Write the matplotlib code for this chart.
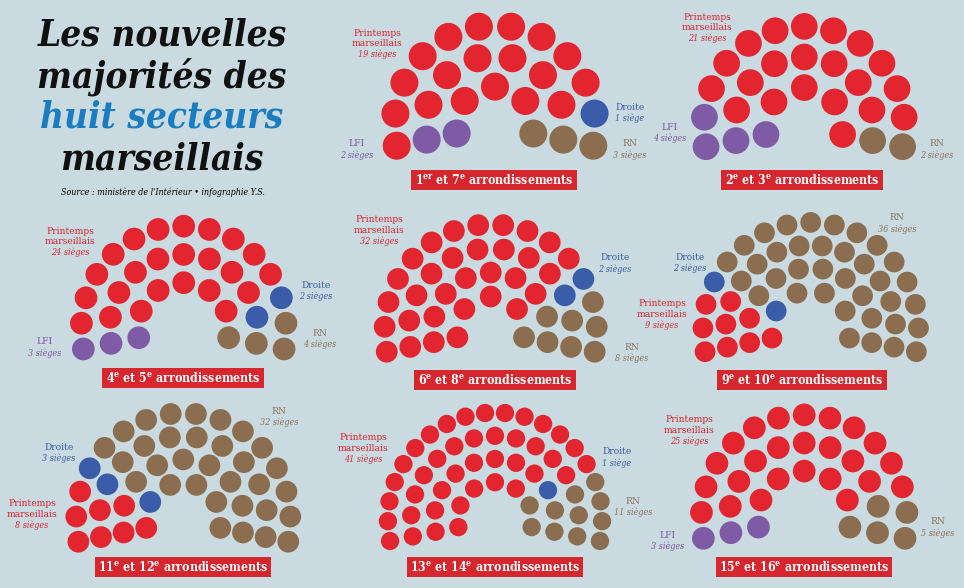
import numpy as np
import matplotlib.pyplot as plt
from matplotlib.patches import Circle

plt.rcParams['mathtext.fontset'] = 'custom'
plt.rcParams['mathtext.rm'] = 'DejaVu Serif:weight=bold:stretch=condensed'
plt.rcParams['mathtext.it'] = 'DejaVu Serif:weight=bold:stretch=condensed'

# --- data: seats per party in each sector ---
secteurs = ['1$^{\\rm er}$ et 7$^{\\rm e}$ arrondissements',
            '2$^{\\rm e}$ et 3$^{\\rm e}$ arrondissements',
            '4$^{\\rm e}$ et 5$^{\\rm e}$ arrondissements',
            '6$^{\\rm e}$ et 8$^{\\rm e}$ arrondissements',
            '9$^{\\rm e}$ et 10$^{\\rm e}$ arrondissements',
            '11$^{\\rm e}$ et 12$^{\\rm e}$ arrondissements',
            '13$^{\\rm e}$ et 14$^{\\rm e}$ arrondissements',
            '15$^{\\rm e}$ et 16$^{\\rm e}$ arrondissements']
partis = ['LFI', 'Printemps\nmarseillais', 'Droite', 'RN']
lfi = [2, 4, 3, 0, 0, 0, 0, 3]
printemps = [19, 21, 24, 32, 9, 8, 41, 25]
droite = [1, 0, 2, 2, 2, 3, 1, 0]
rn = [3, 2, 4, 8, 36, 32, 11, 5]

seat_colors = ['#7f5ba6', '#e32530', '#3a5ca9', '#8b6d4f']
text_colors = ['#7b57a3', '#e0262f', '#3d5ca8', '#8a7258']
bg = '#c9dbe1'

# --- layout ---
# seats per row (outer first) for each hemicycle
rows = [[12, 8, 5], [13, 9, 5], [15, 11, 7], [16, 12, 9, 5],
        [17, 14, 10, 6], [16, 12, 9, 6], [20, 15, 11, 7], [15, 11, 7]]
# centre x, bottom y of outer row, outer radius, inner radius, seat diameter
geom = [(495, 145.7, 100.3, 39.1, 28.0),
        (804.3, 146.7, 100.3, 39.1, 26.7),
        (183.7, 349, 102.4, 45.9, 22.7),
        (490.7, 351.7, 106.1, 34.0, 21.7),
        (810.7, 351.7, 107.8, 39.5, 20.7),
        (183.3, 541.7, 107.1, 37.8, 21.7),
        (495, 541, 107.1, 37.4, 18.3),
        (804.2, 538.3, 102.9, 46.7, 22.7)]
banner_pos = [(494, 180), (802, 180), (183, 378), (495, 380),
              (802, 380), (183, 567), (495, 567), (804, 567)]
# party label positions (x, y of first line), per party index
label_pos = [{1: (377, 33), 0: (357, 144), 2: (630, 107), 3: (630, 144)},
             {1: (707, 17), 0: (670, 127), 3: (937, 144)},
             {1: (70, 231), 0: (45, 342), 2: (316, 285), 3: (320, 333)},
             {1: (379, 220), 2: (615, 258), 3: (632, 347)},
             {1: (662, 304), 2: (690, 257), 3: (897, 218)},
             {1: (32, 504), 2: (59, 447), 3: (279, 411)},
             {1: (363, 438), 2: (617, 452), 3: (633, 501)},
             {1: (689, 420), 0: (668, 535), 3: (938, 522)}]
alpha = np.radians(11.5)
line_h = 10.8


def hemicycle(ax, counts, row_n, cx, by, r_out, r_in, diam):
    radii = np.linspace(r_out, r_in, len(row_n))
    cy = by - r_out * np.sin(alpha)
    seats = []
    for n, r in zip(row_n, radii):
        for k in range(n):
            t = k / (n - 1)
            a = np.pi + alpha - t * (np.pi + 2 * alpha)
            seats.append((round(t, 6), r, cx + r * np.cos(a), cy - r * np.sin(a)))
    # fill seats from left to right, inner rows first on ties
    seats.sort(key=lambda s: (s[0], s[1]))
    colors = []
    for c, n in zip(seat_colors, counts):
        colors += [c] * n
    for (t, r, x, y), c in zip(seats, colors):
        ax.add_patch(Circle((x, y), diam / 2, fc=c, ec='none'))


fig = plt.figure(figsize=(9.64, 5.88), dpi=100)
fig.patch.set_facecolor(bg)
ax = fig.add_axes([0, 0, 1, 1])
ax.set_xlim(0, 964)
ax.set_ylim(588, 0)
ax.set_aspect('equal')
ax.axis('off')

for i in range(len(secteurs)):
    counts = [lfi[i], printemps[i], droite[i], rn[i]]
    hemicycle(ax, counts, rows[i], *geom[i])
    bx, byy = banner_pos[i]
    ax.text(bx, byy, secteurs[i], ha='center', va='center', color='white',
            fontsize=8.8, fontweight='bold', fontstretch='condensed', family='DejaVu Serif',
            bbox=dict(boxstyle='square,pad=0.28', fc='#d6262e', ec='none'))
    for p, (lx, ly) in label_pos[i].items():
        name_lines = partis[p].split('\n')
        for j, line in enumerate(name_lines):
            ax.text(lx, ly + j * line_h, line, ha='center', va='center',
                    color=text_colors[p], fontsize=7.3, fontstretch='condensed',
                    family='DejaVu Serif')
        n = counts[p]
        txt = f'{n} siège' if n == 1 else f'{n} sièges'
        ax.text(lx, ly + len(name_lines) * line_h, txt, ha='center', va='center',
                color=text_colors[p], fontsize=6.5, style='italic',
                fontstretch='condensed', family='DejaVu Serif')

title = ['Les nouvelles', 'majorités des', 'huit secteurs', 'marseillais']
title_col = ['#111111', '#111111', '#1a7cc1', '#111111']
for j, (line, c) in enumerate(zip(title, title_col)):
    ax.text(162, 46 + j * 41, line, ha='center', va='baseline', color=c,
            fontsize=26.5, fontweight='bold', style='italic', fontstretch='condensed',
            family='DejaVu Serif')
ax.text(163, 192, "Source : ministère de l'Intérieur • infographie Y.S.",
        ha='center', va='center', fontsize=6.4, style='italic',
        fontstretch='condensed', family='DejaVu Serif')

fig.savefig('out.png', dpi=100, facecolor=bg)
